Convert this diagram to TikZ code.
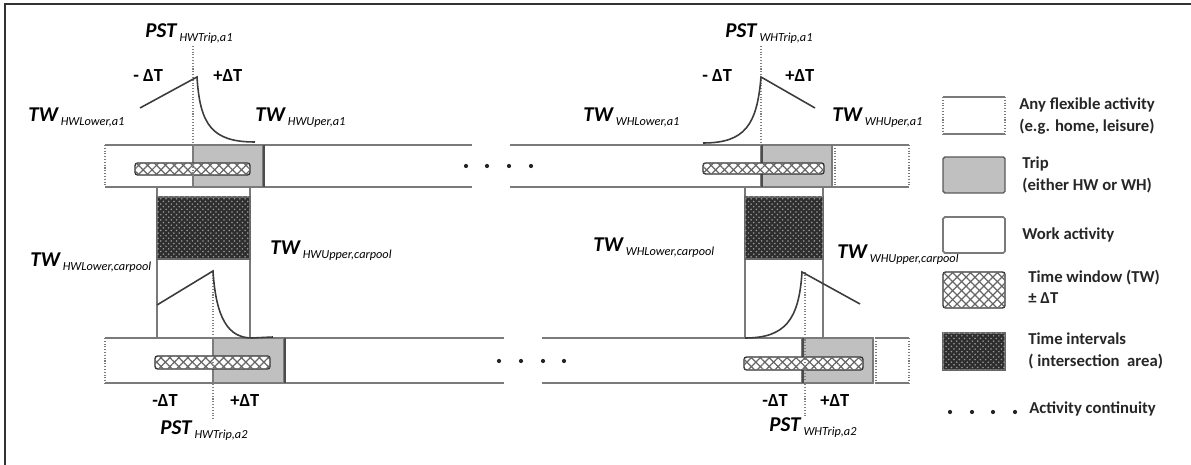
\documentclass[tikz,border=0pt]{standalone}
\usepackage{fontspec}
\setmainfont{Carlito}
\usepackage{xcolor}
\usepackage{tikz}
\usetikzlibrary{patterns, patterns.meta, positioning}

\definecolor{tripgrey}{HTML}{C0C0C0}
\definecolor{bandgrey}{HTML}{7A7A7A}
\definecolor{curvegrey}{HTML}{3C3C3C}

% main symbol with its small subscript
\newcommand{\twlbl}[2]{{\fontsize{12}{13}\selectfont\bfseries\itshape #1}\,\raisebox{-2pt}{\fontsize{7}{8}\selectfont\itshape #2}}

\begin{document}
\begin{tikzpicture}[
    x=0.02cm, y=-0.02cm,
    band/.style={draw=bandgrey, line width=1pt},
    dotln/.style={draw=bandgrey, line width=0.6pt, densely dotted},
    trip/.style={fill=tripgrey, draw=bandgrey, line width=0.8pt},
    tripedge/.style={draw=black!70, line width=1.6pt},
    twin/.style={fill=white,
        postaction={pattern={Lines[angle=45, distance=3.6pt, line width=0.7pt]}, pattern color=black!60},
        postaction={pattern={Lines[angle=-45, distance=3.6pt, line width=0.7pt]}, pattern color=black!60},
        draw=black!80, line width=0.8pt, rounded corners=1.5pt},
    ival/.style={fill=black!82, postaction={pattern=crosshatch dots, pattern color=black!40}, draw=black!60, line width=0.6pt},
    pstline/.style={draw=black!50, line width=0.6pt, densely dotted},
    curve/.style={draw=curvegrey, line width=0.9pt},
    lbl/.style={anchor=base west, inner sep=0pt},
    dt/.style={anchor=base west, inner sep=0pt, font=\fontsize{10.5}{11}\selectfont\bfseries},
    leg/.style={anchor=base west, inner sep=0pt, text=black!85, font=\fontsize{9.5}{11}\selectfont\bfseries}
]
\useasboundingbox (0,0) rectangle (1191,465);
\draw[black!80, line width=1.2pt] (5,465) -- (5,4) -- (1191,4);

% top row
\draw[band] (105,145) -- (472,145) (510,145) -- (761,145);
\draw[band] (105,187) -- (472,187) (510,187) -- (761,187);
\draw[band] (833,145) -- (909,145) (833,187) -- (909,187);
\draw[dotln] (105,145) -- (105,187) (909,145) -- (909,187) (835,145) -- (835,187);
\draw[trip] (193,145) rectangle (263,187);
\draw[tripedge] (264,145) -- (264,187);
\draw[trip] (761,145) rectangle (832,187);
\draw[tripedge] (762,145) -- (762,187);

% bottom row
\draw[band] (105,338) -- (504,338) (542,338) -- (802,338);
\draw[band] (105,383) -- (504,383) (542,383) -- (802,383);
\draw[band] (875,338) -- (909,338) (875,383) -- (909,383);
\draw[dotln] (105,338) -- (105,383) (909,338) -- (909,383) (876,338) -- (876,383);
\draw[trip] (213,338) rectangle (284,383);
\draw[tripedge] (285,338) -- (285,383);
\draw[trip] (802,338) rectangle (873,383);
\draw[tripedge] (803,338) -- (803,383);

% carpool intervals
\draw[band] (157,187) -- (157,338) (250,187) -- (250,338);
\draw[band] (745,187) -- (745,338) (823,187) -- (823,338);
\draw[ival] (157,197) rectangle (250,259);
\draw[ival] (745,197) rectangle (823,259);

% time windows
\draw[twin] (135,163) rectangle (250,175);
\draw[twin] (155,356) rectangle (270,369);
\draw[twin] (703,163) rectangle (824,174);
\draw[twin] (744,357) rectangle (863,370);

% preferred start times
\draw[pstline] (193,46) -- (193,187);
\draw[pstline] (213,272) -- (213,420);
\draw[pstline] (761,46) -- (761,145);
\draw[pstline] (805,272) -- (805,417);

\draw[curve] (140,108) -- (197,77) .. controls (200,125) and (212,142) .. (255,142);
\draw[curve] (703,143) .. controls (745,143) and (757,125) .. (761,77) -- (815,108);
\draw[curve] (157,305) -- (213,271) .. controls (216,318) and (228,338) .. (252,338) -- (273,337);
\draw[curve] (745,338) .. controls (785,338) and (799,320) .. (802,272) -- (860,304);

% continuity dots
\foreach \x in {466,487,509,531} \fill[black!85] (\x,166) circle[radius=1.2pt];
\foreach \x in {499,521,543,564} \fill[black!85] (\x,361) circle[radius=1.2pt];

% labels
\node[lbl] (pstHWa1) at (145,38) {\twlbl{PST}{HWTrip,a1}};
\node[dt] (mdtHWa1) at (133,82) {- ΔT};
\node[dt] (pdtHWa1) at (213,82) {+ΔT};
\node[lbl] (twHWlo) at (28,122) {\twlbl{TW}{HWLower,a1}};
\node[lbl] (twHWup) at (255,122) {\twlbl{TW}{HWUper,a1}};
\node[lbl] (twHWupc) at (270,255) {\twlbl{TW}{HWUpper,carpool}};
\node[lbl] (twHWloc) at (30,267) {\twlbl{TW}{HWLower,carpool}};
\node[dt] (mdtHWa2) at (152,407) {-ΔT};
\node[dt] (pdtHWa2) at (230,407) {+ΔT};
\node[lbl] (pstHWa2) at (160,435) {\twlbl{PST}{HWTrip,a2}};

\node[lbl] (pstWHa1) at (725,38) {\twlbl{PST}{WHTrip,a1}};
\node[dt] (mdtWHa1) at (702,82) {- ΔT};
\node[dt] (pdtWHa1) at (785,82) {+ΔT};
\node[lbl] (twWHlo) at (583,122) {\twlbl{TW}{WHLower,a1}};
\node[lbl] (twWHup) at (832,122) {\twlbl{TW}{WHUper,a1}};
\node[lbl] (twWHloc) at (593,252) {\twlbl{TW}{WHLower,carpool}};
\node[lbl] (twWHupc) at (837,259) {\twlbl{TW}{WHUpper,carpool}};
\node[dt] (mdtWHa2) at (762,407) {-ΔT};
\node[dt] (pdtWHa2) at (820,407) {+ΔT};
\node[lbl] (pstWHa2) at (769,432) {\twlbl{PST}{WHTrip,a2}};

% legend
\draw[band] (943,97) -- (1005,97) (943,134) -- (1005,134);
\draw[dotln] (943,97) -- (943,134) (1005,97) -- (1005,134);
\draw[trip, draw=black!65, rounded corners=1pt] (943,157) rectangle (1005,193);
\draw[band, rounded corners=1pt] (943,217) rectangle (1005,253);
\draw[twin] (943,272) rectangle (1005,308);
\draw[ival] (943,333) rectangle (1005,370);
\foreach \x in {950,972,993,1015} \fill[black!85] (\x,412) circle[radius=1.2pt];

\node[leg] (legflexa) at (1019,110) {Any flexible activity};
\node[leg] (legflexb) at (1019,132) {(e.g. home, leisure)};
\node[leg] (legtripa) at (1022,169) {Trip};
\node[leg] (legtripb) at (1022,191) {(either HW or WH)};
\node[leg] (legwork) at (1022,240) {Work activity};
\node[leg] (legtwa) at (1028,283) {Time window (TW)};
\node[leg] (legtwb) at (1028,304) {± ΔT};
\node[leg] (legivala) at (1028,345) {Time intervals};
\node[leg] (legivalb) at (1028,367) {( intersection\ \ area)};
\node[leg] (legcont) at (1029,414) {Activity continuity};
\end{tikzpicture}
\end{document}
